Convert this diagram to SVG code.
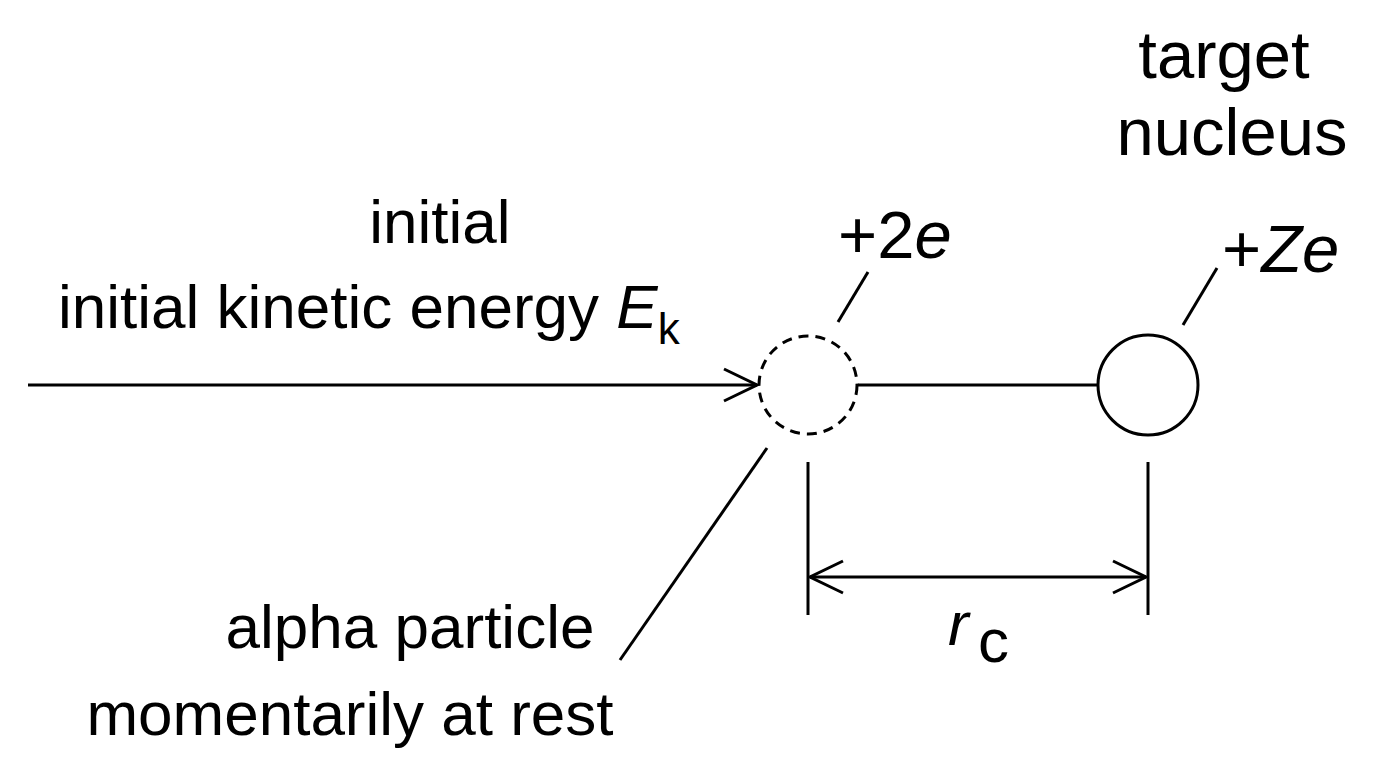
<svg xmlns="http://www.w3.org/2000/svg" width="1376" height="768" viewBox="0 0 1376 768">
<style>
text{font-family:"Liberation Sans",Arial,sans-serif;font-size:62px;fill:#000}
.l{stroke:#000;stroke-width:3;fill:none}
.i{font-style:italic}
.big{font-size:67px}
</style>
<defs>
<marker id="b" viewBox="0 0 40 40" refX="37" refY="20" markerWidth="40" markerHeight="40" markerUnits="userSpaceOnUse" orient="auto-start-reverse">
<path d="M4,4 L37,20 L4,36" fill="none" stroke="#000" stroke-width="3"/>
</marker>
</defs>
<rect width="1376" height="768" fill="#fff"/>
<g id="connectors">
<line class="l" x1="28" y1="385" x2="757" y2="385" marker-end="url(#b)"/>
<line class="l" x1="858" y1="385" x2="1098" y2="385"/>
<line class="l" x1="838" y1="322" x2="868" y2="272"/>
<line class="l" x1="1183" y1="325" x2="1217" y2="268"/>
<line class="l" x1="620" y1="660" x2="767" y2="448"/>
<line class="l" x1="808" y1="462" x2="808" y2="615"/>
<line class="l" x1="1148" y1="462" x2="1148" y2="615"/>
<line class="l" x1="810" y1="577" x2="1146" y2="577" marker-start="url(#b)" marker-end="url(#b)"/>
</g>
<g id="alpha">
<circle class="l" cx="808" cy="385" r="49" stroke-dasharray="10,7"/>
<text class="big" x="838" y="258">+2<tspan class="i">e</tspan></text>
</g>
<g id="nucleus">
<circle class="l" cx="1148" cy="385" r="50"/>
<text class="big" x="1222" y="272">+<tspan class="i">Ze</tspan></text>
<text class="big" x="1224" y="78" text-anchor="middle">target</text>
<text class="big" x="1232" y="155" text-anchor="middle">nucleus</text>
</g>
<g id="labels">
<text x="440" y="243" text-anchor="middle">initial</text>
<text x="58" y="328">initial kinetic energy <tspan class="i">E</tspan><tspan font-size="44" dy="16">k</tspan></text>
<text x="410" y="648" text-anchor="middle">alpha particle</text>
<text x="350" y="735" text-anchor="middle">momentarily at rest</text>
<text x="948" y="645" class="i">r</text>
<text x="978" y="662" font-size="44">c</text>
</g>
</svg>
